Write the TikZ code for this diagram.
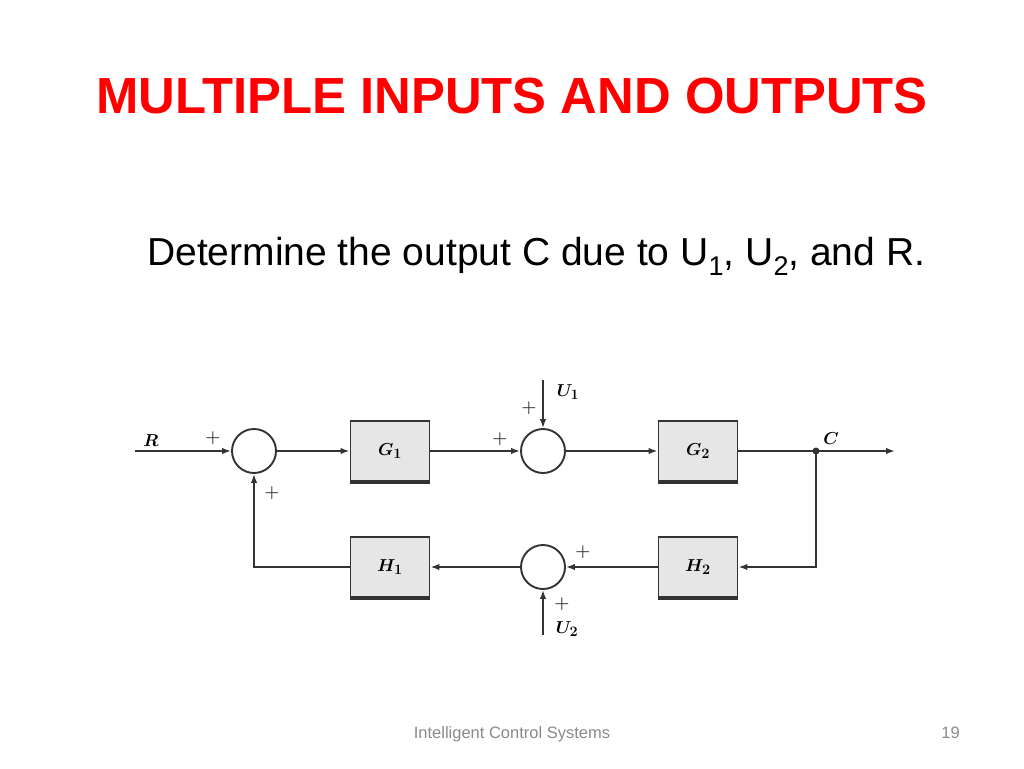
\documentclass[tikz,border=0pt]{standalone}
\usepackage{fontspec}
\setmainfont{Liberation Sans}
\usepackage{amsmath}
\usepackage{bm}
\usetikzlibrary{arrows.meta, positioning}
\definecolor{titlered}{HTML}{FF0000}
\definecolor{wire}{HTML}{333333}
\definecolor{boxgray}{HTML}{E6E6E6}
\definecolor{footgray}{HTML}{8A8A8A}
\newcommand{\lowidx}[1]{\raisebox{-10pt}{\fontsize{27}{27}\selectfont #1}}

\begin{document}
\begin{tikzpicture}[x=1pt, y=-1pt, node distance={136pt}, >={Latex[length=9pt, width=6.5pt]},
    sum/.style = {draw=wire, circle, line width=1.9pt, minimum size=44pt, inner sep=0pt},
    block/.style = {draw=wire, fill=boxgray, line width=1.9pt, minimum width=79pt, minimum height=60pt,
        font=\fontsize{19}{19}\selectfont},
    sign/.style = {font=\fontsize{18}{18}\selectfont, text=wire, inner sep=0pt},
    lbl/.style = {font=\fontsize{19}{19}\selectfont, inner sep=0pt}]
    \useasboundingbox[fill=white] (0,0) rectangle (1024,768);

    \node[font=\fontsize{50.8}{60}\selectfont\bfseries, text=titlered, anchor=base] (title) at (512,113)
        {MULTIPLE INPUTS AND OUTPUTS};
    \node[font=\fontsize{39}{46}\selectfont, anchor=base west, inner sep=0pt] (task) at (147,265)
        {Determine the output C due to U\lowidx{1}, U\lowidx{2}, and R.};

    \node[sum] (sum1) at (254,451) {};
    \node[block] (G1) [right of=sum1] {$\bm{G_1}$};
    \node[sum] (sum2) [right of=G1, node distance=153pt] {};
    \node[block] (G2) [right of=sum2, node distance=155pt] {$\bm{G_2}$};

    \node[block] (H2) [below of=G2, node distance=116pt] {$\bm{H_2}$};
    \node[sum] (sum3) [below of=sum2, node distance=116pt] {};
    \node[block] (H1) [below of=G1, node distance=116pt] {$\bm{H_1}$};

    \coordinate (in) at (135,451);
    \coordinate[right of=G2, node distance=118pt] (jn);
    \coordinate (out) at (895,451);
    \coordinate[above of=sum2, node distance=71pt] (u1);
    \coordinate[below of=sum3, node distance=68pt] (u2);

    \foreach \b in {G1,G2,H1,H2}
        \draw[wire, line width=3.5pt] (\b.south west) -- (\b.south east);

    \path[->, wire, line width=1.9pt] (in) edge (sum1)
        (sum1) edge (G1)
        (G1) edge (sum2)
        (u1) edge (sum2)
        (sum2) edge (G2)
        (jn) edge (out)
        (H2) edge (sum3)
        (u2) edge (sum3)
        (sum3) edge (H1);
    \draw[wire, line width=1.9pt] (G2) -- (jn);
    \draw[->, wire, line width=1.9pt] (jn) |- (H2);
    \draw[->, wire, line width=1.9pt] (H1) -| (sum1);
    \fill[wire] (jn) circle (3.5);

    \node[lbl] at (151,441) {$\bm{R}$};
    \node[lbl] at (568,392) {$\bm{U_1}$};
    \node[lbl] at (831,439) {$\bm{C}$};
    \node[lbl] at (567,629) {$\bm{U_2}$};

    \node[sign] at (213,438) {$\bm{+}$};
    \node[sign] at (272,493) {$\bm{+}$};
    \node[sign] at (500,439) {$\bm{+}$};
    \node[sign] at (529,408) {$\bm{+}$};
    \node[sign] at (583,552) {$\bm{+}$};
    \node[sign] at (562,604) {$\bm{+}$};

    \node[font=\fontsize{16.5}{18}\selectfont, text=footgray, anchor=base] (foot) at (512,738)
        {Intelligent Control Systems};
    \node[font=\fontsize{16.5}{18}\selectfont, text=footgray, anchor=base east, inner sep=0pt] (page) at (960,738) {19};
\end{tikzpicture}
\end{document}
